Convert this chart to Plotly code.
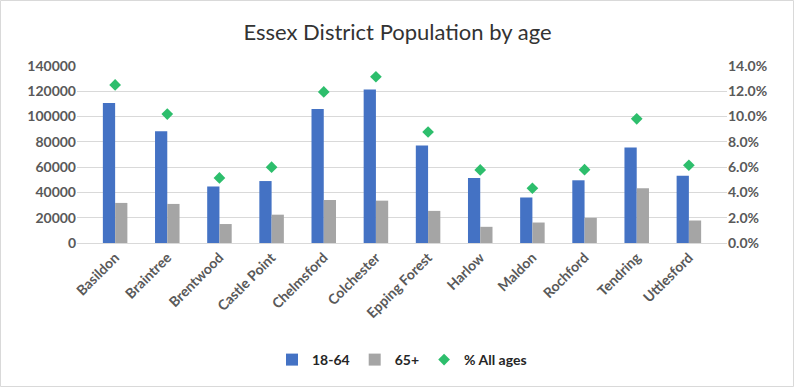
import plotly.graph_objects as go

districts = ["Basildon", "Braintree", "Brentwood", "Castle Point", "Chelmsford", "Colchester",
             "Epping Forest", "Harlow", "Maldon", "Rochford", "Tendring", "Uttlesford"]
pop_18_64 = [110700, 88300, 44700, 49000, 106000, 121500, 77200, 51400, 36000, 49600, 75500, 53200]
pop_65_plus = [31700, 30900, 15000, 22400, 34000, 33500, 25400, 12800, 16200, 19900, 43300, 17800]
pct_all_ages = [0.125, 0.102, 0.0515, 0.060, 0.1195, 0.1315, 0.0878, 0.0578, 0.0433, 0.058, 0.0982, 0.0615]

FONT = "Lato, Open Sans, Arial, sans-serif"
BOLD = "<b>%s</b>"
GREY_TXT = "#595959"

fig = go.Figure()
fig.add_trace(go.Bar(x=districts, y=pop_18_64, name="<b>18-64</b>", marker_color="#4472C4",
                     marker_line_width=0, offsetgroup="a"))
fig.add_trace(go.Bar(x=districts, y=pop_65_plus, name="<b>65+</b>", marker_color="#A5A5A5",
                     marker_line_width=0, offsetgroup="b"))
fig.add_trace(go.Scatter(x=districts, y=pct_all_ages, name="<b>% All ages</b>", mode="markers",
                         marker=dict(symbol="diamond", size=9, color="#2DBE6C"),
                         yaxis="y2"))

W, H = 795, 388
L, R, T, B = 77, 68, 66, 145
pw = W - L - R
ph = H - T - B

y_ticks = list(range(0, 140001, 20000))
y2_ticks = [i / 100 for i in range(0, 15, 2)]

fig.update_layout(
    width=W, height=H,
    margin=dict(l=L, r=R, t=T, b=B, autoexpand=False),
    paper_bgcolor="white", plot_bgcolor="white",
    barmode="group", bargap=0.53, bargroupgap=0,
    title=dict(text="Essex District Population by age", x=0.5, xanchor="center",
               y=1 - 32 / H, yanchor="middle",
               font=dict(family=FONT, size=22, color="#333333")),
    font=dict(family=FONT, color=GREY_TXT),
    xaxis=dict(tickangle=-45, tickfont=dict(size=14, color=GREY_TXT, family=FONT),
               tickmode="array", tickvals=districts, ticktext=[BOLD % d for d in districts],
               showline=True, linecolor="#D9D9D9", linewidth=1, ticks="", showgrid=False,
               automargin=False),
    yaxis=dict(range=[0, 140000], tickmode="array", tickvals=y_ticks,
               ticktext=[BOLD % str(v) for v in y_ticks],
               tickfont=dict(size=14, color=GREY_TXT, family=FONT),
               gridcolor="#D9D9D9", gridwidth=1, zeroline=False, showline=False, ticks="",
               automargin=False),
    yaxis2=dict(range=[0, 0.14], overlaying="y", side="right", tickmode="array",
                tickvals=y2_ticks, ticktext=[BOLD % f"{v*100:.1f}%" for v in y2_ticks],
                tickfont=dict(size=14, color=GREY_TXT, family=FONT),
                showgrid=False, zeroline=False, showline=False, ticks="", automargin=False),
    legend=dict(orientation="h", x=0.5, xanchor="center", y=-(360 - T - ph) / ph, yanchor="middle",
                font=dict(size=14, color="#262626", family=FONT), itemwidth=30,
                tracegroupgap=0),
    shapes=[dict(type="rect", xref="paper", yref="paper",
                 x0=-(L - 0.5) / pw, x1=1 + (R - 1.5) / pw,
                 y0=-(B - 1.5) / ph, y1=1 + (T - 0.5) / ph,
                 line=dict(color="#D9D9D9", width=1))],
)

fig.write_html("out.html", config={"displayModeBar": False},
               post_script="document.body.style.margin='0';")
